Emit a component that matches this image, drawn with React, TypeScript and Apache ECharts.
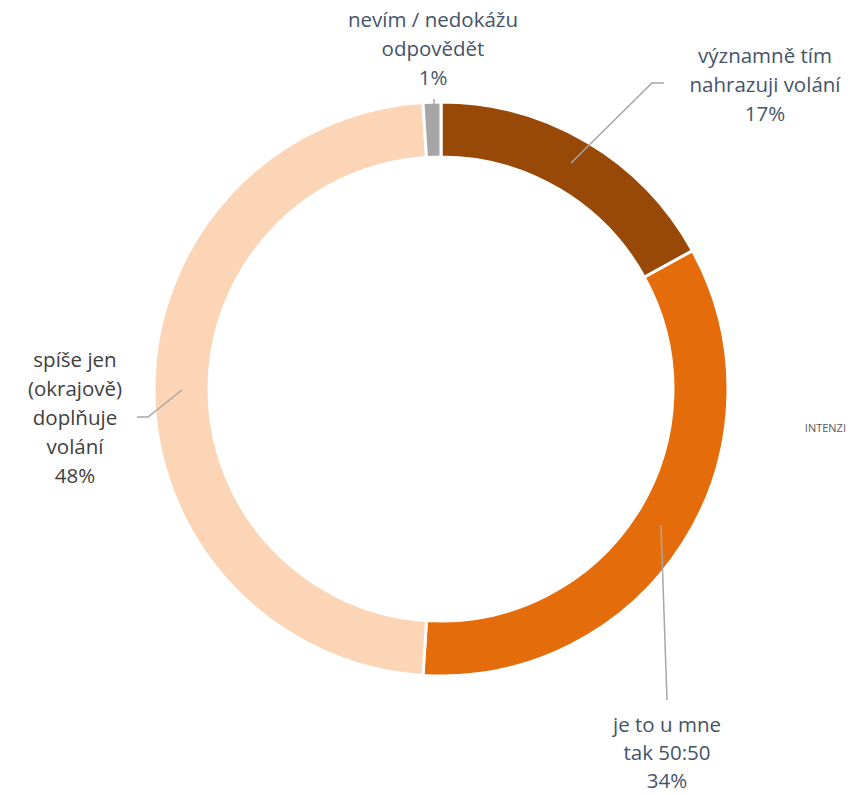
import React, { useEffect, useRef } from "react";
import * as echarts from "echarts";

const categories = [
  "významně tím\nnahrazuji volání",
  "je to u mne\ntak 50:50",
  "spíše jen\n(okrajově)\ndoplňuje\nvolání",
  "nevím / nedokážu\nodpovědět",
];
const values = [17, 34, 48, 1];
const colors = ["#984807", "#E46C0A", "#FBD5B5", "#A6A6A6"];
const labelColors = ["#44546A", "#44546A", "#404040", "#44546A"];
const sideText = "INTENZI";

// label anchor positions (layout only)
const labelPos = [
  { x: 765, y: 84 },
  { x: 667, y: 752 },
  { x: 75, y: 417 },
  { x: 433, y: 48 },
];
const labelLineHeights = [29, 28, 29, 29];
const linePts: number[][][] = [
  [[571, 163], [652, 83], [664, 83]],
  [[661, 525], [667, 700]],
  [[182, 390], [148, 417], [137, 417]],
  [[434, 104], [434, 99]],
];

export default function App() {
  const ref = useRef<HTMLDivElement>(null);
  useEffect(() => {
    if (!ref.current) return;
    const chart = echarts.init(ref.current, undefined, { renderer: "svg" });
    chart.setOption({
      animation: false,
      backgroundColor: "#ffffff",
      graphic: [
        {
          type: "text",
          z: 100,
          x: 846,
          y: 427,
          style: {
            text: sideText,
            fill: "#595959",
            font: '11px "Open Sans", sans-serif',
            textAlign: "right",
            textVerticalAlign: "middle",
          },
        },
        ...linePts.map((pts) => ({
          type: "polyline",
          z: 100,
          shape: { points: pts },
          style: { stroke: "#A6A6A6", lineWidth: 1.5, fill: null },
        })),
      ],
      series: [
        {
          type: "pie",
          center: [441, 389],
          radius: [232, 287],
          startAngle: 90,
          clockwise: true,
          avoidLabelOverlap: false,
          itemStyle: { borderColor: "#ffffff", borderWidth: 3 },
          label: {
            show: true,
            formatter: (p: any) => `${p.name}\n${p.value}%`,
            fontFamily: '"Open Sans", sans-serif',
            fontSize: 20.5,
            lineHeight: 29,
            align: "center",
          },
          labelLine: { show: false },
          labelLayout: (params: any) => {
            const i = params.dataIndex;
            return {
              x: labelPos[i].x,
              y: labelPos[i].y,
              align: "center",
              verticalAlign: "middle",
            };
          },
          data: categories.map((c, i) => ({
            name: c,
            value: values[i],
            itemStyle: { color: colors[i] },
            label: { color: labelColors[i], lineHeight: labelLineHeights[i] },
          })),
        },
      ],
    });
    return () => chart.dispose();
  }, []);
  return (
    <div
      ref={ref}
      style={{ position: "fixed", left: 0, top: 0, width: 848, height: 795 }}
    />
  );
}
